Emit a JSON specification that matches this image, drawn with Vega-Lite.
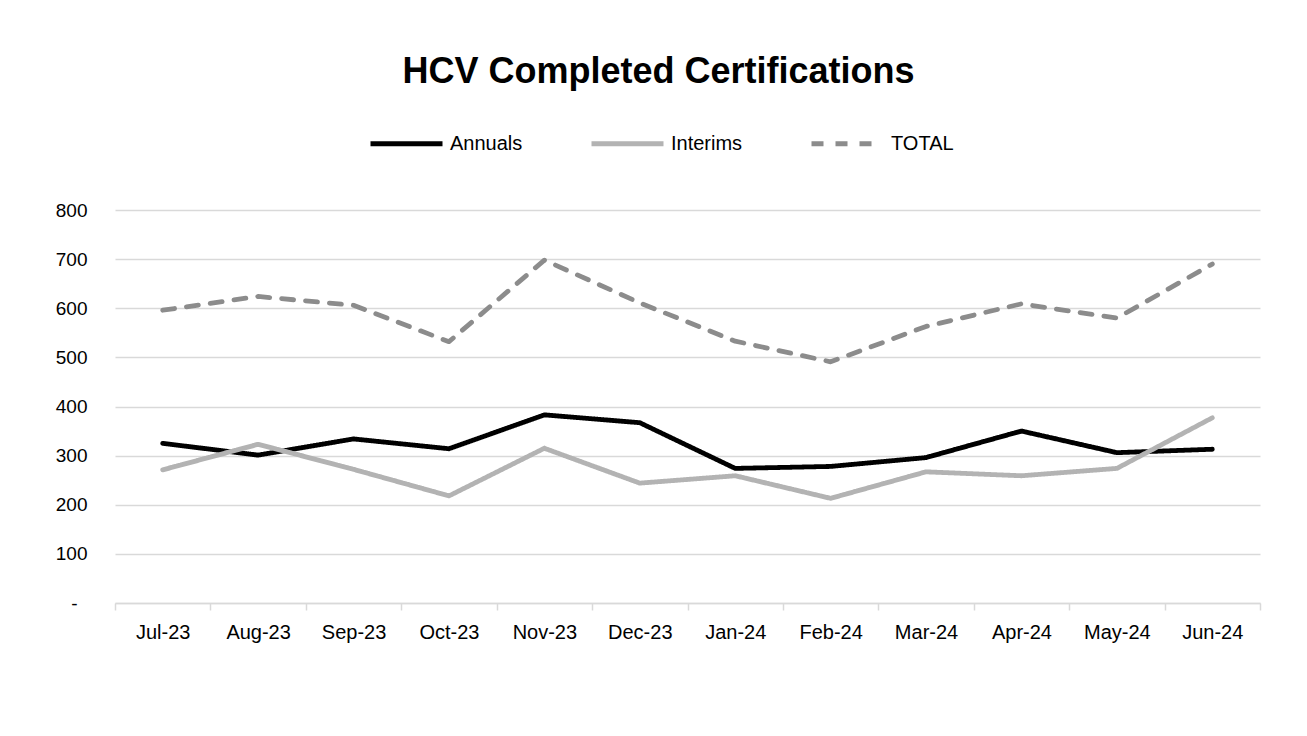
{
  "$schema": "https://vega.github.io/schema/vega-lite/v6.json",
  "autosize": "none",
  "width": 1145,
  "height": 393,
  "padding": {"left": 115, "top": 210, "right": 47, "bottom": 133},
  "background": "white",
  "config": {
    "view": {"stroke": null},
    "font": "Liberation Sans"
  },
  "title": {
    "text": "HCV Completed Certifications",
    "fontSize": 36,
    "fontWeight": "bold",
    "font": "Liberation Sans",
    "color": "#000000",
    "anchor": "middle",
    "frame": "group",
    "dx": -29,
    "offset": 14
  },
  "data": {
    "values": [
      {"month": "Jul-23", "series": "Annuals", "value": 325},
      {"month": "Aug-23", "series": "Annuals", "value": 301},
      {"month": "Sep-23", "series": "Annuals", "value": 334},
      {"month": "Oct-23", "series": "Annuals", "value": 314},
      {"month": "Nov-23", "series": "Annuals", "value": 383},
      {"month": "Dec-23", "series": "Annuals", "value": 367},
      {"month": "Jan-24", "series": "Annuals", "value": 274},
      {"month": "Feb-24", "series": "Annuals", "value": 278},
      {"month": "Mar-24", "series": "Annuals", "value": 296},
      {"month": "Apr-24", "series": "Annuals", "value": 350},
      {"month": "May-24", "series": "Annuals", "value": 306},
      {"month": "Jun-24", "series": "Annuals", "value": 313},
      {"month": "Jul-23", "series": "Interims", "value": 271},
      {"month": "Aug-23", "series": "Interims", "value": 323},
      {"month": "Sep-23", "series": "Interims", "value": 272},
      {"month": "Oct-23", "series": "Interims", "value": 218},
      {"month": "Nov-23", "series": "Interims", "value": 315},
      {"month": "Dec-23", "series": "Interims", "value": 244},
      {"month": "Jan-24", "series": "Interims", "value": 259},
      {"month": "Feb-24", "series": "Interims", "value": 213},
      {"month": "Mar-24", "series": "Interims", "value": 267},
      {"month": "Apr-24", "series": "Interims", "value": 259},
      {"month": "May-24", "series": "Interims", "value": 274},
      {"month": "Jun-24", "series": "Interims", "value": 377},
      {"month": "Jul-23", "series": "TOTAL", "value": 596},
      {"month": "Aug-23", "series": "TOTAL", "value": 624},
      {"month": "Sep-23", "series": "TOTAL", "value": 606},
      {"month": "Oct-23", "series": "TOTAL", "value": 532},
      {"month": "Nov-23", "series": "TOTAL", "value": 698},
      {"month": "Dec-23", "series": "TOTAL", "value": 611},
      {"month": "Jan-24", "series": "TOTAL", "value": 533},
      {"month": "Feb-24", "series": "TOTAL", "value": 491},
      {"month": "Mar-24", "series": "TOTAL", "value": 563},
      {"month": "Apr-24", "series": "TOTAL", "value": 609},
      {"month": "May-24", "series": "TOTAL", "value": 580},
      {"month": "Jun-24", "series": "TOTAL", "value": 690}
    ]
  },
  "mark": {"type": "line", "strokeWidth": 4.8, "strokeCap": "round", "strokeJoin": "round"},
  "encoding": {
    "x": {
      "field": "month",
      "type": "nominal",
      "sort": null,
      "scale": {"type": "band", "paddingInner": 0, "paddingOuter": 0},
      "axis": {
        "title": null,
        "labelAngle": 0,
        "labelFontSize": 20,
        "labelColor": "#000000",
        "labelPadding": 12,
        "domainColor": "#d9d9d9",
        "domainWidth": 1.5,
        "tickColor": "#d9d9d9",
        "tickWidth": 1.5,
        "tickSize": 7,
        "tickBand": "extent",
        "grid": false
      }
    },
    "y": {
      "field": "value",
      "type": "quantitative",
      "scale": {"domain": [0, 800], "nice": false},
      "axis": {
        "title": null,
        "values": [0, 100, 200, 300, 400, 500, 600, 700, 800],
        "labelExpr": "datum.value === 0 ? '-' : datum.label",
        "labelFontSize": 19,
        "labelColor": "#000000",
        "labelPadding": {"condition": {"test": "datum.value === 0", "value": 38}, "value": 28},
        "ticks": false,
        "domain": false,
        "grid": true,
        "gridColor": "#d9d9d9",
        "gridWidth": 1.5
      }
    },
    "color": {
      "field": "series",
      "type": "nominal",
      "scale": {"domain": ["Annuals", "Interims", "TOTAL"], "range": ["#000000", "#b3b3b3", "#8c8c8c"]},
      "legend": {
        "title": null,
        "orient": "none",
        "direction": "horizontal",
        "legendX": 253,
        "legendY": -105,
        "symbolType": "stroke",
        "symbolSize": 5184,
        "symbolStrokeWidth": 5,
        "labelFontSize": 20,
        "labelColor": "#000000",
        "labelOffset": 5,
        "columnPadding": 58,
        "padding": 0
      }
    },
    "strokeDash": {
      "field": "series",
      "type": "nominal",
      "scale": {"domain": ["Annuals", "Interims", "TOTAL"], "range": [[1, 0], [1, 0], [12, 12]]},
      "legend": null
    }
  }
}
